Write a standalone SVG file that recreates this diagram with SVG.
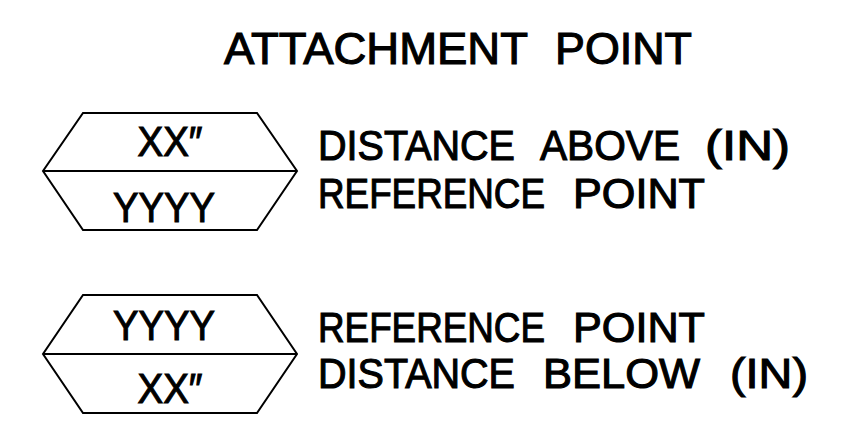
<svg xmlns="http://www.w3.org/2000/svg" width="849" height="422" viewBox="0 0 849 422">
<style>
text{font-family:"Liberation Sans",Arial,sans-serif;fill:#000;stroke:#000;stroke-width:1.1}
.t{font-size:44px}
.r{font-size:42px}
.h{font-size:43px;text-anchor:middle}
.hex{fill:none;stroke:#000;stroke-width:2;stroke-linejoin:miter}
</style>
<rect width="849" height="422" fill="#fff"/>
<g id="title">
<text class="t" x="224" y="64" textLength="304" lengthAdjust="spacingAndGlyphs">ATTACHMENT</text>
<text class="t" x="555" y="64" textLength="137" lengthAdjust="spacingAndGlyphs">POINT</text>
</g>
<g id="node-above">
<path class="hex" d="M83,113 H257 L297,171 L257,230 H83 L43,171 Z M43,171 H297"/>
<text class="h" x="170" y="156" textLength="65" lengthAdjust="spacingAndGlyphs">XX″</text>
<text class="h" x="164" y="222" textLength="102" lengthAdjust="spacingAndGlyphs">YYYY</text>
</g>
<g id="label-above">
<text class="r" x="318" y="160" textLength="197" lengthAdjust="spacingAndGlyphs">DISTANCE</text>
<text class="r" x="540" y="160" textLength="140" lengthAdjust="spacingAndGlyphs">ABOVE</text>
<text class="r" x="705" y="160" textLength="85" lengthAdjust="spacingAndGlyphs">(IN)</text>
<text class="r" x="318" y="208" textLength="227" lengthAdjust="spacingAndGlyphs">REFERENCE</text>
<text class="r" x="573" y="208" textLength="132" lengthAdjust="spacingAndGlyphs">POINT</text>
</g>
<g id="node-below">
<path class="hex" d="M83,295 H257 L297,354 L257,413 H83 L43,354 Z M43,354 H297"/>
<text class="h" x="164" y="340" textLength="102" lengthAdjust="spacingAndGlyphs">YYYY</text>
<text class="h" x="170" y="403" textLength="65" lengthAdjust="spacingAndGlyphs">XX″</text>
</g>
<g id="label-below">
<text class="r" x="318" y="342" textLength="227" lengthAdjust="spacingAndGlyphs">REFERENCE</text>
<text class="r" x="573" y="342" textLength="132" lengthAdjust="spacingAndGlyphs">POINT</text>
<text class="r" x="318" y="388" textLength="197" lengthAdjust="spacingAndGlyphs">DISTANCE</text>
<text class="r" x="543" y="388" textLength="157" lengthAdjust="spacingAndGlyphs">BELOW</text>
<text class="r" x="730" y="388" textLength="78" lengthAdjust="spacingAndGlyphs">(IN)</text>
</g>
<g id="connectors"></g>
</svg>
